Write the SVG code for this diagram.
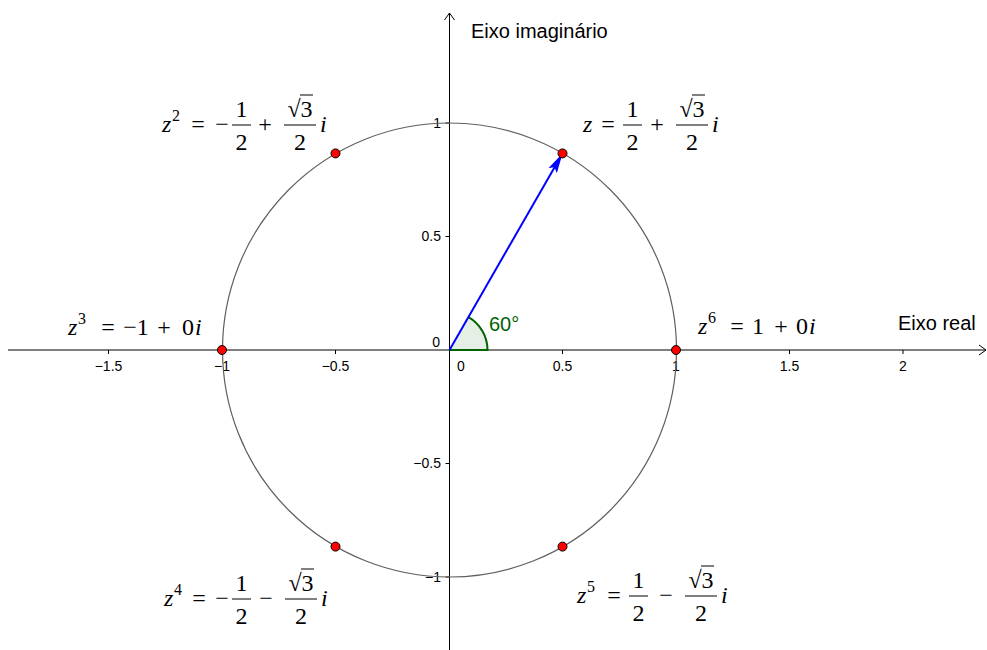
<svg xmlns="http://www.w3.org/2000/svg" width="987" height="650" viewBox="0 0 987 650">
<defs>
<style>
.ax{stroke:#000;stroke-width:1;fill:none}
.tk{font-family:"Liberation Sans",Arial,sans-serif;font-size:14px;fill:#000}
.lab{font-family:"Liberation Sans",Arial,sans-serif;font-size:20px;fill:#000}
.m{font-family:"Liberation Serif","Times New Roman",serif;font-size:24px;fill:#000}
.mi{font-style:italic}
.sup{font-family:"Liberation Serif","Times New Roman",serif;font-size:16px;fill:#000}
.bar{stroke:#000;stroke-width:1}
.pt{fill:#ff0000;stroke:#000;stroke-width:1}
</style>
<marker id="vh" viewBox="0 0 20 10" refX="20" refY="5" markerWidth="20" markerHeight="10" markerUnits="userSpaceOnUse" orient="auto">
<path d="M0,0 L20,5 L0,10 L4,5 Z" fill="#0000ff"/>
</marker>
</defs>
<rect width="987" height="650" fill="#fff"/>

<g id="axes">
<line class="ax" x1="8" y1="350" x2="986" y2="350"/>
<polyline class="ax" points="979,345 986,350 979,355"/>
<line class="ax" x1="449.5" y1="650" x2="449.5" y2="13"/>
<polyline class="ax" points="444.5,20 449.5,13 454.5,20"/>
<g class="ax">
<line x1="108.5" y1="350" x2="108.5" y2="354"/>
<line x1="222" y1="350" x2="222" y2="354"/>
<line x1="335.5" y1="350" x2="335.5" y2="354"/>
<line x1="562.5" y1="350" x2="562.5" y2="354"/>
<line x1="676" y1="350" x2="676" y2="354"/>
<line x1="789.5" y1="350" x2="789.5" y2="354"/>
<line x1="903" y1="350" x2="903" y2="354"/>
<line x1="445.5" y1="123" x2="449.5" y2="123"/>
<line x1="445.5" y1="236.5" x2="449.5" y2="236.5"/>
<line x1="445.5" y1="463.5" x2="449.5" y2="463.5"/>
<line x1="445.5" y1="577" x2="449.5" y2="577"/>
</g>
<g class="tk" text-anchor="middle">
<text x="108.5" y="371">−1.5</text>
<text x="222" y="371">−1</text>
<text x="335.5" y="371">−0.5</text>
<text x="461" y="371">0</text>
<text x="562.5" y="371">0.5</text>
<text x="676" y="371">1</text>
<text x="789.5" y="371">1.5</text>
<text x="903" y="371">2</text>
</g>
<g class="tk" text-anchor="end">
<text x="441" y="128">1</text>
<text x="441" y="241">0.5</text>
<text x="440" y="347">0</text>
<text x="441" y="468">−0.5</text>
<text x="441" y="582">−1</text>
</g>
<text class="lab" x="471" y="38">Eixo imaginário</text>
<text class="lab" x="898" y="330">Eixo real</text>
</g>

<g id="circle">
<circle cx="449.5" cy="350" r="227" fill="none" stroke="#606060" stroke-width="1.2"/>
</g>

<g id="angle">
<path d="M449.5,350 L487.5,350 A38,38 0 0 0 468.5,317.1 Z" fill="#e5efe5" stroke="none"/>
<path d="M468.5,317.1 A38,38 0 0 1 487.5,350 L449.5,350" fill="none" stroke="#006400" stroke-width="2"/>
<text x="489" y="331" font-family="Liberation Sans,Arial,sans-serif" font-size="20" fill="#006400">60°</text>
</g>

<g id="connectors">
<line x1="449.5" y1="350" x2="562.5" y2="153.4" stroke="#0000ff" stroke-width="2" marker-end="url(#vh)"/>
</g>

<g id="points">
<circle class="pt" cx="562.5" cy="153.4" r="4.5"/>
<circle class="pt" cx="335.5" cy="153.4" r="4.5"/>
<circle class="pt" cx="222" cy="350" r="4.5"/>
<circle class="pt" cx="335.5" cy="546.6" r="4.5"/>
<circle class="pt" cx="562.5" cy="546.6" r="4.5"/>
<circle class="pt" cx="676" cy="350" r="4.5"/>
</g>

<g id="label-z">
<text class="m mi" x="583" y="132">z</text>
<text class="m" x="608" y="132" text-anchor="middle">=</text>
<text class="m" x="632.5" y="117" text-anchor="middle">1</text>
<line class="bar" x1="623" y1="125" x2="642" y2="125"/>
<text class="m" x="632.5" y="150" text-anchor="middle">2</text>
<text class="m" x="657" y="132" text-anchor="middle">+</text>
<text class="m" x="692" y="117" text-anchor="middle">√3</text>
<line class="bar" x1="692" y1="95" x2="705" y2="95"/>
<line class="bar" x1="676" y1="125" x2="708" y2="125"/>
<text class="m" x="692" y="150" text-anchor="middle">2</text>
<text class="m mi" x="712" y="132">i</text>
</g>

<g id="label-z2">
<text class="m mi" x="162" y="132">z</text>
<text class="sup" x="172" y="121">2</text>
<text class="m" x="198" y="132" text-anchor="middle">=</text>
<text class="m" x="222" y="132" text-anchor="middle">−</text>
<text class="m" x="241.5" y="117" text-anchor="middle">1</text>
<line class="bar" x1="232" y1="125" x2="251" y2="125"/>
<text class="m" x="241.5" y="150" text-anchor="middle">2</text>
<text class="m" x="265" y="132" text-anchor="middle">+</text>
<text class="m" x="300" y="117" text-anchor="middle">√3</text>
<line class="bar" x1="300" y1="95" x2="313" y2="95"/>
<line class="bar" x1="284" y1="125" x2="316" y2="125"/>
<text class="m" x="300" y="150" text-anchor="middle">2</text>
<text class="m mi" x="320" y="132">i</text>
</g>

<g id="label-z3">
<text class="m mi" x="68" y="335">z</text>
<text class="sup" x="78" y="324">3</text>
<text class="m" x="108" y="335" text-anchor="middle">=</text>
<text class="m" x="136" y="335" text-anchor="middle">−1</text>
<text class="m" x="164" y="335" text-anchor="middle">+</text>
<text class="m" x="188" y="335" text-anchor="middle">0</text>
<text class="m mi" x="195" y="335">i</text>
</g>

<g id="label-z6">
<text class="m mi" x="698" y="334">z</text>
<text class="sup" x="708" y="323">6</text>
<text class="m" x="737" y="334" text-anchor="middle">=</text>
<text class="m" x="758" y="334" text-anchor="middle">1</text>
<text class="m" x="781" y="334" text-anchor="middle">+</text>
<text class="m" x="802" y="334" text-anchor="middle">0</text>
<text class="m mi" x="809" y="334">i</text>
</g>

<g id="label-z4">
<text class="m mi" x="164" y="606">z</text>
<text class="sup" x="174" y="595">4</text>
<text class="m" x="199" y="606" text-anchor="middle">=</text>
<text class="m" x="222" y="606" text-anchor="middle">−</text>
<text class="m" x="241.5" y="591" text-anchor="middle">1</text>
<line class="bar" x1="232" y1="599" x2="251" y2="599"/>
<text class="m" x="241.5" y="624" text-anchor="middle">2</text>
<text class="m" x="266" y="606" text-anchor="middle">−</text>
<text class="m" x="301" y="591" text-anchor="middle">√3</text>
<line class="bar" x1="301" y1="569" x2="314" y2="569"/>
<line class="bar" x1="285" y1="599" x2="317" y2="599"/>
<text class="m" x="301" y="624" text-anchor="middle">2</text>
<text class="m mi" x="321" y="606">i</text>
</g>

<g id="label-z5">
<text class="m mi" x="577" y="603">z</text>
<text class="sup" x="587" y="592">5</text>
<text class="m" x="614" y="603" text-anchor="middle">=</text>
<text class="m" x="638.5" y="588" text-anchor="middle">1</text>
<line class="bar" x1="629" y1="596" x2="648" y2="596"/>
<text class="m" x="638.5" y="621" text-anchor="middle">2</text>
<text class="m" x="666" y="603" text-anchor="middle">−</text>
<text class="m" x="701" y="588" text-anchor="middle">√3</text>
<line class="bar" x1="701" y1="566" x2="714" y2="566"/>
<line class="bar" x1="685" y1="596" x2="717" y2="596"/>
<text class="m" x="701" y="621" text-anchor="middle">2</text>
<text class="m mi" x="721" y="603">i</text>
</g>
</svg>
